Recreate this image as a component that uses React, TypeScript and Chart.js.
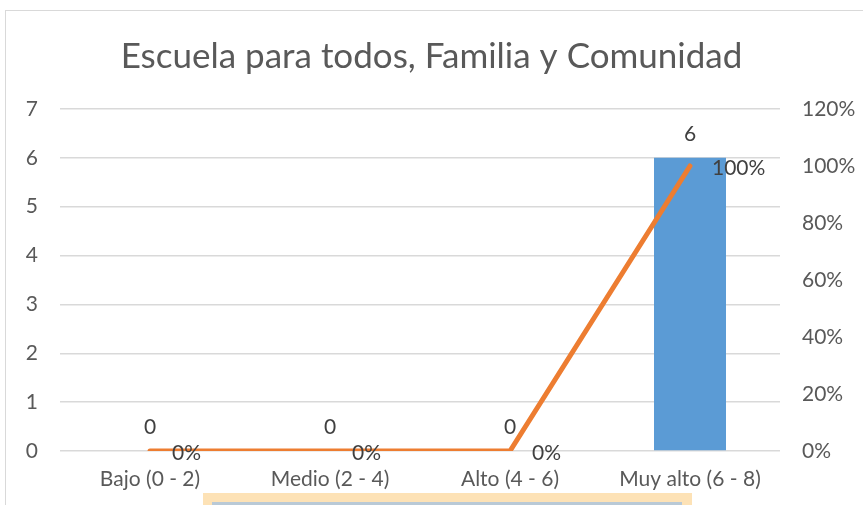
import React, { useEffect, useRef } from "react";
import { Chart, registerables } from "chart.js";

Chart.register(...registerables);

const categories = ["Bajo (0 - 2)", "Medio (2 - 4)", "Alto (4 - 6)", "Muy alto (6 - 8)"];
const counts = [0, 0, 0, 6];
const percents = [0, 0, 0, 100];
const leftTicks = [0, 1, 2, 3, 4, 5, 6, 7];
const rightTicks = [0, 20, 40, 60, 80, 100, 120];
const titleText = "Escuela para todos, Familia y Comunidad";

const FONT = "Lato, 'Open Sans', sans-serif";
const TEXT = "#595959";
const LABEL = "#404040";
const FS = 21;

const labelsPlugin = {
  id: "valueLabels",
  afterDatasetsDraw(chart: any) {
    const ctx = chart.ctx;
    ctx.save();
    ctx.font = `${FS}px ${FONT}`;
    ctx.fillStyle = LABEL;
    const barMeta = chart.getDatasetMeta(0);
    barMeta.data.forEach((el: any, i: number) => {
      ctx.textAlign = "center";
      ctx.textBaseline = "middle";
      ctx.fillText(String(counts[i]), el.x, el.y - 24);
    });
    const lineMeta = chart.getDatasetMeta(1);
    lineMeta.data.forEach((el: any, i: number) => {
      ctx.textAlign = "left";
      ctx.textBaseline = "middle";
      ctx.fillText(percents[i] + "%", el.x + 22, el.y + 2);
    });
    ctx.restore();
  },
};

export default function App() {
  const ref = useRef<HTMLCanvasElement | null>(null);
  useEffect(() => {
    if (!ref.current) return;
    const chart = new Chart(ref.current, {
      type: "bar",
      data: {
        labels: categories,
        datasets: [
          {
            type: "bar",
            data: counts,
            backgroundColor: "#5B9BD5",
            yAxisID: "y",
            barPercentage: 0.4,
            categoryPercentage: 1,
            order: 1,
          },
          {
            type: "line",
            data: percents,
            borderColor: "#ED7D31",
            borderWidth: 5,
            pointRadius: 0,
            borderCapStyle: "round",
            borderJoinStyle: "round",
            tension: 0,
            yAxisID: "y1",
            order: 0,
          } as any,
        ],
      },
      options: {
        responsive: false,
        animation: false,
        layout: { padding: 0 },
        plugins: {
          legend: { display: false },
          tooltip: { enabled: false },
          title: {
            display: true,
            text: titleText,
            color: TEXT,
            font: { family: FONT, size: 35, weight: "normal" },
            padding: { top: 36, bottom: 31 },
          },
        },
        scales: {
          x: {
            grid: { display: false, drawTicks: false },
            border: { display: false },
            ticks: { color: TEXT, font: { family: FONT, size: FS }, padding: 16, maxRotation: 0 },
            afterFit: (s: any) => { s.height = 54; },
          },
          y: {
            position: "left",
            min: 0,
            max: 7,
            afterBuildTicks: (s: any) => { s.ticks = leftTicks.map((v) => ({ value: v })); },
            grid: { color: "#D9D9D9", lineWidth: 1.5, drawTicks: false },
            border: { display: false },
            ticks: { color: TEXT, font: { family: FONT, size: FS }, padding: 22 },
            afterFit: (s: any) => { s.width = 60; },
          },
          y1: {
            position: "right",
            min: 0,
            max: 120,
            afterBuildTicks: (s: any) => { s.ticks = rightTicks.map((v) => ({ value: v })); },
            grid: { display: false, drawTicks: false },
            border: { display: false },
            ticks: { color: TEXT, font: { family: FONT, size: FS }, padding: 22, callback: (v: any) => v + "%" },
            afterFit: (s: any) => { s.width = 83; },
          },
        },
      },
      plugins: [labelsPlugin],
    });
    return () => chart.destroy();
  }, []);

  return (
    <div style={{ position: "fixed", left: 0, top: 0, width: 863, height: 505, overflow: "hidden", background: "#fff" }}>
      <div style={{ position: "absolute", left: 5, top: 10, width: 900, height: 600, border: "1px solid #D9D9D9" }} />
      <canvas ref={ref} width={863} height={505} style={{ position: "absolute", left: 0, top: 0 }} />
      <div style={{ position: "absolute", left: 203, top: 493, width: 489, height: 20, background: "#FDE2B6" }} />
      <div style={{ position: "absolute", left: 212, top: 502, width: 470, height: 10, background: "#B9C9D6" }} />
    </div>
  );
}
